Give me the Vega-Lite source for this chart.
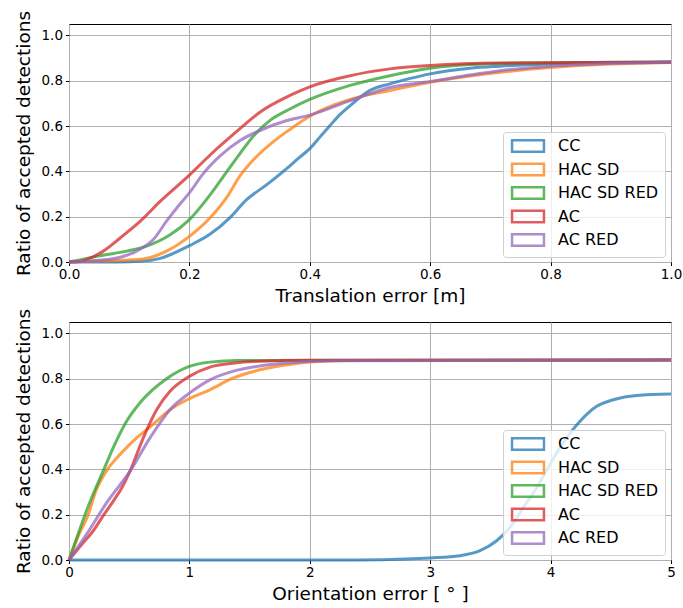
{
  "$schema": "https://vega.github.io/schema/vega-lite/v6.json",
  "padding": {"left": 13, "top": 9, "right": 12, "bottom": 2},
  "background": "white",
  "spacing": 60,
  "bounds": "flush",
  "config": {
    "font": "DejaVu Sans",
    "view": {"stroke": "black", "strokeWidth": 1},
    "axis": {
      "domain": false,
      "grid": true,
      "gridColor": "#b0b0b0",
      "gridWidth": 1,
      "ticks": true,
      "tickColor": "black",
      "tickSize": 3.5,
      "tickWidth": 1,
      "labelColor": "black",
      "labelFont": "DejaVu Sans",
      "labelFontSize": 13.5,
      "labelPadding": 3,
      "titleColor": "black",
      "titleFont": "DejaVu Sans",
      "titleFontSize": 18.5,
      "titleFontWeight": "normal"
    },
    "axisX": {"titlePadding": 6, "labelPadding": 1.5, "labelFlush": false},
    "axisY": {"titlePadding": 8},
    "legend": {
      "orient": "none",
      "legendX": 434,
      "legendY": 108,
      "title": null,
      "fillColor": "rgba(255,255,255,0.8)",
      "strokeColor": "#d0d0d0",
      "cornerRadius": 3,
      "padding": 6,
      "labelFont": "DejaVu Sans",
      "labelFontSize": 16,
      "labelColor": "black",
      "symbolOffset": 11,
      "labelOffset": 22,
      "symbolType": "M-2.8,-1H2.8V1H-2.8Z",
      "symbolSize": 130,
      "symbolStrokeWidth": 2.5,
      "symbolFillColor": "transparent",
      "symbolOpacity": 0.75,
      "rowPadding": 1.5
    }
  },
  "resolve": {"scale": {"color": "independent"}, "legend": {"color": "independent"}},
  "vconcat": [
    {
      "width": 602,
      "height": 238,
      "data": {"values": [
        {"s":"CC","x":0,"y":0},{"s":"CC","x":0.08,"y":0},{"s":"CC","x":0.12,"y":0.003},{"s":"CC","x":0.15,"y":0.015},{"s":"CC","x":0.168,"y":0.032},{"s":"CC","x":0.2,"y":0.072},{"s":"CC","x":0.234,"y":0.122},{"s":"CC","x":0.267,"y":0.195},{"s":"CC","x":0.295,"y":0.275},{"s":"CC","x":0.328,"y":0.34},{"s":"CC","x":0.362,"y":0.413},{"s":"CC","x":0.38,"y":0.455},{"s":"CC","x":0.4,"y":0.5},{"s":"CC","x":0.418,"y":0.555},{"s":"CC","x":0.434,"y":0.603},{"s":"CC","x":0.45,"y":0.65},{"s":"CC","x":0.467,"y":0.69},{"s":"CC","x":0.5,"y":0.757},{"s":"CC","x":0.533,"y":0.786},{"s":"CC","x":0.567,"y":0.81},{"s":"CC","x":0.6,"y":0.83},{"s":"CC","x":0.666,"y":0.855},{"s":"CC","x":0.716,"y":0.864},{"s":"CC","x":0.8,"y":0.874},{"s":"CC","x":0.9,"y":0.879},{"s":"CC","x":1.0,"y":0.881},
        {"s":"HAC SD","x":0,"y":0},{"s":"HAC SD","x":0.068,"y":0.005},{"s":"HAC SD","x":0.123,"y":0.013},{"s":"HAC SD","x":0.162,"y":0.048},{"s":"HAC SD","x":0.2,"y":0.113},{"s":"HAC SD","x":0.234,"y":0.194},{"s":"HAC SD","x":0.262,"y":0.285},{"s":"HAC SD","x":0.284,"y":0.38},{"s":"HAC SD","x":0.306,"y":0.45},{"s":"HAC SD","x":0.339,"y":0.53},{"s":"HAC SD","x":0.367,"y":0.585},{"s":"HAC SD","x":0.4,"y":0.643},{"s":"HAC SD","x":0.433,"y":0.685},{"s":"HAC SD","x":0.467,"y":0.717},{"s":"HAC SD","x":0.533,"y":0.757},{"s":"HAC SD","x":0.6,"y":0.793},{"s":"HAC SD","x":0.716,"y":0.837},{"s":"HAC SD","x":0.8,"y":0.858},{"s":"HAC SD","x":0.9,"y":0.873},{"s":"HAC SD","x":1.0,"y":0.88},
        {"s":"HAC SD RED","x":0,"y":0},{"s":"HAC SD RED","x":0.051,"y":0.027},{"s":"HAC SD RED","x":0.096,"y":0.048},{"s":"HAC SD RED","x":0.129,"y":0.07},{"s":"HAC SD RED","x":0.168,"y":0.12},{"s":"HAC SD RED","x":0.2,"y":0.187},{"s":"HAC SD RED","x":0.234,"y":0.295},{"s":"HAC SD RED","x":0.262,"y":0.398},{"s":"HAC SD RED","x":0.284,"y":0.478},{"s":"HAC SD RED","x":0.306,"y":0.555},{"s":"HAC SD RED","x":0.334,"y":0.625},{"s":"HAC SD RED","x":0.367,"y":0.675},{"s":"HAC SD RED","x":0.4,"y":0.717},{"s":"HAC SD RED","x":0.467,"y":0.779},{"s":"HAC SD RED","x":0.533,"y":0.822},{"s":"HAC SD RED","x":0.6,"y":0.855},{"s":"HAC SD RED","x":0.666,"y":0.871},{"s":"HAC SD RED","x":0.75,"y":0.878},{"s":"HAC SD RED","x":1.0,"y":0.882},
        {"s":"AC","x":0,"y":0},{"s":"AC","x":0.02,"y":0.003},{"s":"AC","x":0.035,"y":0.017},{"s":"AC","x":0.057,"y":0.048},{"s":"AC","x":0.085,"y":0.106},{"s":"AC","x":0.118,"y":0.179},{"s":"AC","x":0.151,"y":0.266},{"s":"AC","x":0.2,"y":0.383},{"s":"AC","x":0.234,"y":0.471},{"s":"AC","x":0.284,"y":0.588},{"s":"AC","x":0.317,"y":0.661},{"s":"AC","x":0.367,"y":0.735},{"s":"AC","x":0.4,"y":0.773},{"s":"AC","x":0.467,"y":0.822},{"s":"AC","x":0.533,"y":0.852},{"s":"AC","x":0.6,"y":0.867},{"s":"AC","x":0.716,"y":0.878},{"s":"AC","x":1.0,"y":0.882},
        {"s":"AC RED","x":0,"y":0},{"s":"AC RED","x":0.068,"y":0.012},{"s":"AC RED","x":0.112,"y":0.048},{"s":"AC RED","x":0.14,"y":0.099},{"s":"AC RED","x":0.162,"y":0.18},{"s":"AC RED","x":0.184,"y":0.255},{"s":"AC RED","x":0.2,"y":0.305},{"s":"AC RED","x":0.223,"y":0.39},{"s":"AC RED","x":0.251,"y":0.468},{"s":"AC RED","x":0.284,"y":0.536},{"s":"AC RED","x":0.317,"y":0.58},{"s":"AC RED","x":0.362,"y":0.624},{"s":"AC RED","x":0.4,"y":0.648},{"s":"AC RED","x":0.467,"y":0.712},{"s":"AC RED","x":0.533,"y":0.77},{"s":"AC RED","x":0.6,"y":0.796},{"s":"AC RED","x":0.666,"y":0.825},{"s":"AC RED","x":0.716,"y":0.844},{"s":"AC RED","x":0.8,"y":0.864},{"s":"AC RED","x":0.9,"y":0.876},{"s":"AC RED","x":1.0,"y":0.881}
      ]},
      "mark": {"type": "line", "strokeWidth": 3, "opacity": 0.75, "interpolate": "monotone"},
      "encoding": {
        "x": {"field": "x", "type": "quantitative", "scale": {"domain": [0, 1], "nice": false, "zero": false}, "axis": {"title": "Translation error [m]", "values": [0, 0.2, 0.4, 0.6, 0.8, 1.0], "format": ".1f"}},
        "y": {"field": "y", "type": "quantitative", "scale": {"domain": [0, 1.05], "nice": false}, "axis": {"title": "Ratio of accepted detections", "values": [0, 0.2, 0.4, 0.6, 0.8, 1.0], "format": ".1f"}},
        "color": {"field": "s", "type": "nominal", "sort": null, "scale": {"domain": ["CC", "HAC SD", "HAC SD RED", "AC", "AC RED"], "range": ["#1f77b4", "#ff7f0e", "#2ca02c", "#d62728", "#9467bd"]}}
      }
    },
    {
      "width": 602,
      "height": 238,
      "data": {"values": [
        {"s":"CC","x":0,"y":0},{"s":"CC","x":2.4,"y":0},{"s":"CC","x":2.8,"y":0.004},{"s":"CC","x":3.0,"y":0.009},{"s":"CC","x":3.247,"y":0.019},{"s":"CC","x":3.414,"y":0.041},{"s":"CC","x":3.552,"y":0.085},{"s":"CC","x":3.663,"y":0.144},{"s":"CC","x":3.773,"y":0.231},{"s":"CC","x":3.884,"y":0.319},{"s":"CC","x":4.009,"y":0.436},{"s":"CC","x":4.133,"y":0.539},{"s":"CC","x":4.244,"y":0.612},{"s":"CC","x":4.383,"y":0.678},{"s":"CC","x":4.52,"y":0.707},{"s":"CC","x":4.715,"y":0.726},{"s":"CC","x":5.0,"y":0.732},
        {"s":"HAC SD","x":0,"y":0},{"s":"HAC SD","x":0.08,"y":0.11},{"s":"HAC SD","x":0.16,"y":0.2},{"s":"HAC SD","x":0.22,"y":0.3},{"s":"HAC SD","x":0.32,"y":0.4},{"s":"HAC SD","x":0.424,"y":0.466},{"s":"HAC SD","x":0.562,"y":0.539},{"s":"HAC SD","x":0.68,"y":0.59},{"s":"HAC SD","x":0.839,"y":0.663},{"s":"HAC SD","x":1.0,"y":0.712},{"s":"HAC SD","x":1.17,"y":0.751},{"s":"HAC SD","x":1.36,"y":0.802},{"s":"HAC SD","x":1.586,"y":0.839},{"s":"HAC SD","x":1.86,"y":0.865},{"s":"HAC SD","x":2.0,"y":0.873},{"s":"HAC SD","x":2.3,"y":0.88},{"s":"HAC SD","x":5,"y":0.882},
        {"s":"HAC SD RED","x":0,"y":0},{"s":"HAC SD RED","x":0.06,"y":0.09},{"s":"HAC SD RED","x":0.133,"y":0.2},{"s":"HAC SD RED","x":0.2,"y":0.29},{"s":"HAC SD RED","x":0.29,"y":0.4},{"s":"HAC SD RED","x":0.38,"y":0.51},{"s":"HAC SD RED","x":0.465,"y":0.6},{"s":"HAC SD RED","x":0.6,"y":0.7},{"s":"HAC SD RED","x":0.811,"y":0.8},{"s":"HAC SD RED","x":1.0,"y":0.854},{"s":"HAC SD RED","x":1.17,"y":0.873},{"s":"HAC SD RED","x":1.4,"y":0.88},{"s":"HAC SD RED","x":5,"y":0.883},
        {"s":"AC","x":0,"y":0},{"s":"AC","x":0.1,"y":0.065},{"s":"AC","x":0.202,"y":0.129},{"s":"AC","x":0.29,"y":0.2},{"s":"AC","x":0.368,"y":0.26},{"s":"AC","x":0.44,"y":0.32},{"s":"AC","x":0.507,"y":0.392},{"s":"AC","x":0.617,"y":0.539},{"s":"AC","x":0.728,"y":0.663},{"s":"AC","x":0.839,"y":0.744},{"s":"AC","x":1.0,"y":0.81},{"s":"AC","x":1.17,"y":0.851},{"s":"AC","x":1.36,"y":0.868},{"s":"AC","x":1.58,"y":0.877},{"s":"AC","x":2.0,"y":0.881},{"s":"AC","x":5,"y":0.882},
        {"s":"AC RED","x":0,"y":0},{"s":"AC RED","x":0.147,"y":0.114},{"s":"AC RED","x":0.313,"y":0.253},{"s":"AC RED","x":0.507,"y":0.392},{"s":"AC RED","x":0.673,"y":0.539},{"s":"AC RED","x":0.839,"y":0.663},{"s":"AC RED","x":1.0,"y":0.736},{"s":"AC RED","x":1.17,"y":0.795},{"s":"AC RED","x":1.36,"y":0.832},{"s":"AC RED","x":1.586,"y":0.856},{"s":"AC RED","x":1.86,"y":0.871},{"s":"AC RED","x":2.2,"y":0.879},{"s":"AC RED","x":5,"y":0.881}
      ]},
      "mark": {"type": "line", "strokeWidth": 3, "opacity": 0.75, "interpolate": "monotone"},
      "encoding": {
        "x": {"field": "x", "type": "quantitative", "scale": {"domain": [0, 5], "nice": false, "zero": false}, "axis": {"title": "Orientation error [ ° ]", "values": [0, 1, 2, 3, 4, 5], "format": "d"}},
        "y": {"field": "y", "type": "quantitative", "scale": {"domain": [0, 1.05], "nice": false}, "axis": {"title": "Ratio of accepted detections", "values": [0, 0.2, 0.4, 0.6, 0.8, 1.0], "format": ".1f"}},
        "color": {"field": "s", "type": "nominal", "sort": null, "scale": {"domain": ["CC", "HAC SD", "HAC SD RED", "AC", "AC RED"], "range": ["#1f77b4", "#ff7f0e", "#2ca02c", "#d62728", "#9467bd"]}}
      }
    }
  ]
}
